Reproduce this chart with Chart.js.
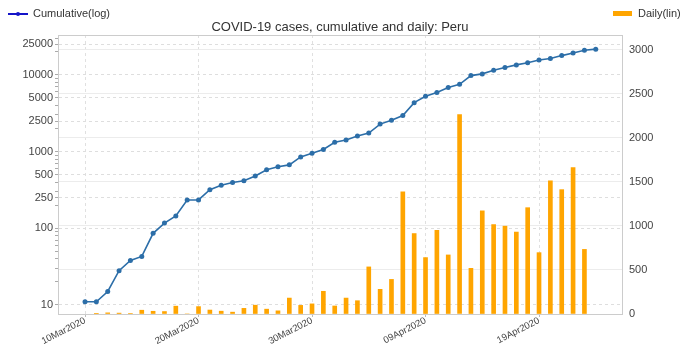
<!DOCTYPE html>
<html>
<head>
<meta charset="utf-8">
<script src="https://cdn.jsdelivr.net/npm/chart.js@4"></script>
<style>
html,body{margin:0;padding:0;background:#fff;}
#wrap{position:relative;width:680px;height:351px;font-family:"Liberation Sans",Arial,sans-serif;color:#333;}
#c{position:absolute;left:0;top:0;}
.lg{position:absolute;top:7px;font-size:11px;line-height:13px;color:#333;white-space:nowrap;}
#title{position:absolute;left:0;top:19px;width:680px;text-align:center;font-size:13px;line-height:15px;color:#333;}
</style>
</head>
<body>
<div id="wrap">
  <canvas id="c" width="680" height="351"></canvas>
  <div style="position:absolute;left:8px;top:13px;width:20px;height:2px;background:#1414c8;"></div>
  <div style="position:absolute;left:16px;top:12px;width:4px;height:4px;border-radius:2px;background:#1414c8;"></div>
  <div class="lg" style="left:33px;">Cumulative(log)</div>
  <div style="position:absolute;left:613px;top:11px;width:19px;height:5px;background:#ffa500;"></div>
  <div class="lg" style="left:638px;">Daily(lin)</div>
  <div id="title">COVID-19 cases, cumulative and daily: Peru</div>
</div>
<script>
// dates (day index = position in this list)
const dates = ['10Mar2020','11Mar2020','12Mar2020','13Mar2020','14Mar2020','15Mar2020','16Mar2020','17Mar2020',
  '18Mar2020','19Mar2020','20Mar2020','21Mar2020','22Mar2020','23Mar2020','24Mar2020','25Mar2020','26Mar2020',
  '27Mar2020','28Mar2020','29Mar2020','30Mar2020','31Mar2020','01Apr2020','02Apr2020','03Apr2020','04Apr2020',
  '05Apr2020','06Apr2020','07Apr2020','08Apr2020','09Apr2020','10Apr2020','11Apr2020','12Apr2020','13Apr2020',
  '14Apr2020','15Apr2020','16Apr2020','17Apr2020','18Apr2020','19Apr2020','20Apr2020','21Apr2020','22Apr2020',
  '23Apr2020','24Apr2020'];
const cumulative = [11,11,15,28,38,43,86,117,145,234,234,318,363,395,416,480,580,635,671,852,950,1065,
  1323,1414,1595,1746,2281,2561,2954,4342,5256,5897,6848,7519,9784,10303,11475,12491,13489,14420,15628,
  16325,17837,19250,20914,21648];
const daily = [null,4,13,10,5,43,31,28,89,0,84,45,32,21,64,100,55,36,181,98,115,258,91,181,151,535,280,
  393,1388,914,641,951,671,2265,519,1172,1016,998,931,1208,697,1512,1413,1664,734];
const xTickDays = [0,10,20,30,40];
const logMajor = [10,100,250,500,1000,2500,5000,10000,25000];
const linTicks = [0,500,1000,1500,2000,2500,3000];

const logMinor = [];
[10,100,1000,10000].forEach(d => { for(let k=1;k<10;k++){ const v=k*d; if(v>7.6 && v<33000 && !logMajor.includes(v)) logMinor.push(v); } });

Chart.defaults.font.family = '"Liberation Sans", Arial, sans-serif';
Chart.defaults.font.size = 11;
Chart.defaults.color = '#444';

const frameTop = {
  id:'frameTop',
  afterDraw(chart){
    const a = chart.chartArea, ctx = chart.ctx;
    ctx.save(); ctx.strokeStyle='#cccccc'; ctx.lineWidth=1;
    ctx.beginPath(); ctx.moveTo(a.left, a.top+0.5); ctx.lineTo(a.right, a.top+0.5); ctx.stroke();
    ctx.restore();
  }
};

new Chart(document.getElementById('c').getContext('2d'), {
  type:'bar',
  data:{
    datasets:[
      { type:'line', label:'Cumulative(log)', yAxisID:'yL', order:0,
        data: cumulative.map((v,i)=>({x:i,y:v})),
        borderColor:'#2c6ea8', backgroundColor:'#2c6ea8', pointBackgroundColor:'#2c6ea8',
        borderWidth:1.6, pointRadius:2.5, pointBorderWidth:0, tension:0 },
      { type:'bar', label:'Daily(lin)', yAxisID:'yR', order:1,
        data: daily.map((v,i)=>({x:i,y:v})),
        backgroundColor:'#ffa500', barThickness:4, grouped:false }
    ]
  },
  options:{
    responsive:false, animation:false,
    layout:{ padding:{ top:35, left:0, right:0, bottom:0 } },
    plugins:{ legend:{ display:false }, tooltip:{ enabled:false } },
    scales:{
      x:{ type:'linear', position:'bottom', min:-2.38, max:47.31, offset:false,
        afterBuildTicks: s => { s.ticks = xTickDays.map(v=>({value:v})); },
        afterFit: s => { s.height = 37; },
        ticks:{ autoSkip:false, minRotation:27, maxRotation:27, padding:-2, font:{ size:9.5 },
          callback: v => dates[v] },
        grid:{ color:'#e0e0e0', offset:false, tickLength:3, tickColor:'#bbb' },
        border:{ color:'#cccccc', dash:[3,3] } },
      yL:{ type:'logarithmic', position:'left', min:7.63, max:33100,
        afterBuildTicks: s => { s.ticks = logMajor.concat(logMinor).sort((a,b)=>a-b).map(v=>({value:v})); },
        afterFit: s => { s.width = 58; },
        ticks:{ autoSkip:false, padding:2, callback: v => logMajor.includes(v) ? String(v) : '' },
        grid:{ tickLength:3, tickColor:'#aaa',
          color: c => (c.tick && logMajor.includes(c.tick.value)) ? '#dedede' : 'rgba(0,0,0,0)' },
        border:{ color:'#cccccc', dash:[3,3] } },
      yR:{ type:'linear', position:'right', min:0, max:3170,
        afterBuildTicks: s => { s.ticks = linTicks.map(v=>({value:v})); },
        afterFit: s => { s.width = 58; },
        ticks:{ padding:4, callback: v => String(v) },
        grid:{ color:'#ececec', tickLength:3, tickColor:'rgba(0,0,0,0)' },
        border:{ color:'#cccccc' } }
    }
  },
  plugins:[frameTop]
});
</script>
</body>
</html>
